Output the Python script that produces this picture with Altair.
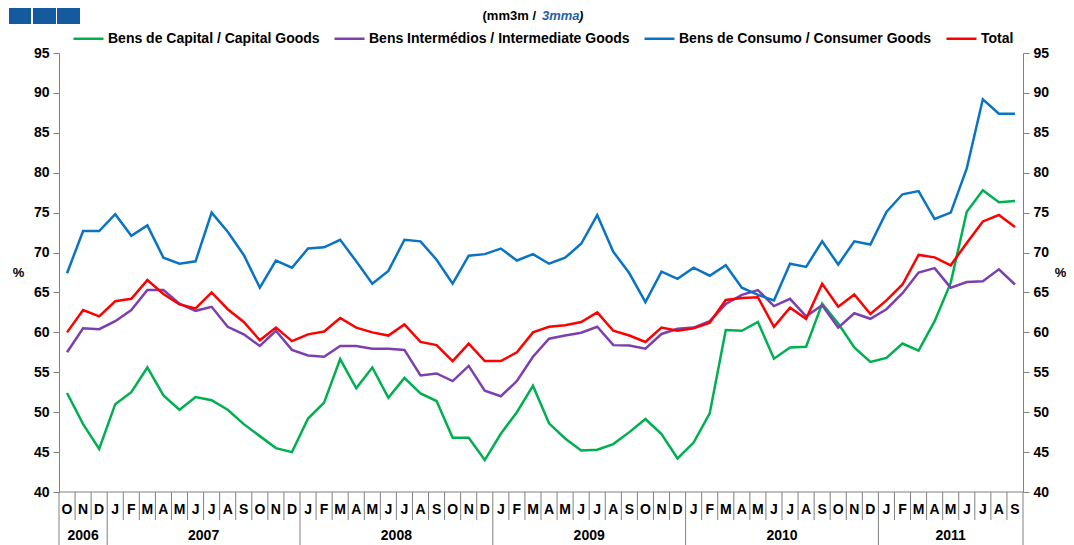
import altair as alt
import pandas as pd

# ---------------- data ----------------
months = ["O", "N", "D",
          "J", "F", "M", "A", "M", "J", "J", "A", "S", "O", "N", "D",
          "J", "F", "M", "A", "M", "J", "J", "A", "S", "O", "N", "D",
          "J", "F", "M", "A", "M", "J", "J", "A", "S", "O", "N", "D",
          "J", "F", "M", "A", "M", "J", "J", "A", "S", "O", "N", "D",
          "J", "F", "M", "A", "M", "J", "J", "A", "S"]
years = ["2006", "2007", "2008", "2009", "2010", "2011"]
year_first = [0, 3, 15, 27, 39, 51]
year_last = [2, 14, 26, 38, 50, 59]

capital = [52.4, 48.5, 45.4,
           51.0, 52.5, 55.6, 52.1, 50.3, 51.9, 51.5, 50.3, 48.5, 47.0, 45.5, 45.0,
           49.2, 51.2, 56.65, 53.0, 55.6, 51.8, 54.3, 52.35, 51.4, 46.8, 46.8, 44.0,
           47.3, 50.0, 53.3, 48.6, 46.7, 45.2, 45.3, 46.0, 47.5, 49.15, 47.25, 44.2,
           46.2, 49.85, 60.3, 60.2, 61.3, 56.7, 58.1, 58.2, 63.6, 61.1, 58.1, 56.3,
           56.8, 58.6, 57.7, 61.4, 66.2, 75.1, 77.8, 76.3, 76.45]
intermediate = [57.5, 60.5, 60.4,
                61.4, 62.8, 65.3, 65.3, 63.6, 62.7, 63.2, 60.7, 59.75, 58.3, 60.2, 57.8,
                57.1, 56.95, 58.3, 58.3, 57.95, 57.95, 57.8, 54.6, 54.85, 53.9, 55.8, 52.7,
                52.0, 53.9, 56.95, 59.2, 59.6, 59.95, 60.7, 58.4, 58.35, 57.95, 59.8, 60.45,
                60.6, 61.4, 63.55, 64.7, 65.3, 63.3, 64.2, 62.0, 63.4, 60.6, 62.4, 61.7,
                62.9, 64.9, 67.5, 68.05, 65.6, 66.3, 66.4, 67.9, 66.0]
consumer = [67.4, 72.7, 72.7,
            74.8, 72.1, 73.4, 69.35, 68.6, 68.9, 75.0, 72.6, 69.7, 65.6, 69.0, 68.1,
            70.5, 70.65, 71.6, 68.9, 66.1, 67.7, 71.6, 71.4, 69.1, 66.1, 69.6, 69.8,
            70.5, 69.0, 69.8, 68.6, 69.35, 71.1, 74.7, 70.1, 67.4, 63.8, 67.6, 66.7,
            68.1, 67.1, 68.4, 65.6, 64.7, 64.0, 68.6, 68.2, 71.4, 68.5, 71.4, 71.0,
            75.1, 77.3, 77.7, 74.2, 75.0, 80.55, 89.2, 87.4, 87.4]
total = [60.0, 62.8, 62.0,
         63.9, 64.2, 66.55, 64.8, 63.5, 63.0, 65.0, 62.9, 61.3, 59.0, 60.6, 58.9,
         59.75, 60.1, 61.8, 60.6, 60.0, 59.6, 61.0, 58.8, 58.4, 56.4, 58.6, 56.4,
         56.4, 57.5, 60.0, 60.7, 60.9, 61.3, 62.5, 60.2, 59.6, 58.8, 60.6, 60.2,
         60.5, 61.2, 64.05, 64.3, 64.4, 60.7, 63.1, 61.7, 66.1, 63.2, 64.75, 62.3,
         64.0, 66.0, 69.7, 69.4, 68.4, 71.2, 73.9, 74.7, 73.2]

series_names = ["Bens de Capital / Capital Goods",
                "Bens Intermédios / Intermediate Goods",
                "Bens de Consumo / Consumer Goods",
                "Total"]
series_colors = ["#00B050", "#7B3FB0", "#0A74C4", "#FF0000"]
y_ticks = [40, 45, 50, 55, 60, 65, 70, 75, 80, 85, 90, 95]

# ---------------- tables ----------------
rows = []
for name, vals in zip(series_names, [capital, intermediate, consumer, total]):
    for i, v in enumerate(vals):
        rows.append({"idx": i, "series": name, "value": v})
df = pd.DataFrame(rows)

df_months = pd.DataFrame({"idx": list(range(len(months))), "label": months})
df_years = pd.DataFrame({"year": years,
                         "center": [(a + b) / 2 for a, b in zip(year_first, year_last)]})
year_bounds = [a - 0.5 for a in year_first] + [year_last[-1] + 0.5]
all_bounds = [i - 0.5 for i in range(len(months) + 1)]
df_short = pd.DataFrame({"b": [b for b in all_bounds if b not in year_bounds]})
df_long = pd.DataFrame({"b": year_bounds})

W, H = 964, 439
FONT = "Liberation Sans"
GRAY = "#808080"

xscale = alt.Scale(domain=[-0.5, len(months) - 0.5], nice=False, zero=False)
yscale = alt.Scale(domain=[40, 95], nice=False, zero=False)


def yaxis(orient, title_x):
    return alt.Axis(orient=orient, values=y_ticks, grid=False,
                    domainColor=GRAY, tickColor=GRAY, tickSize=6, labelPadding=4,
                    labelFont=FONT, labelFontSize=14, labelFontWeight="bold",
                    labelColor="black", title="%", titleAngle=0, titleX=title_x,
                    titleY=219, titleAlign="center", titleBaseline="middle",
                    titleFont=FONT, titleFontSize=13, titleFontWeight="bold",
                    titleColor="black")


lines = alt.Chart(df).mark_line(strokeWidth=2.5).encode(
    x=alt.X("idx:Q", scale=xscale, axis=None),
    y=alt.Y("value:Q", scale=yscale, axis=yaxis("left", -41)),
    color=alt.Color("series:N", sort=series_names,
                    scale=alt.Scale(domain=series_names, range=series_colors),
                    legend=alt.Legend(orient="none", legendX=13, legendY=-31,
                                      direction="horizontal", title=None,
                                      symbolType="stroke", symbolSize=900,
                                      symbolStrokeWidth=2.5, labelFont=FONT,
                                      labelFontSize=14, labelFontWeight="bold",
                                      labelColor="black", labelLimit=500,
                                      columnPadding=9, labelOffset=3)),
)

right_axis = alt.Chart(df).mark_line(opacity=0).encode(
    x=alt.X("idx:Q", scale=xscale, axis=None),
    y=alt.Y("value:Q", scale=yscale, axis=yaxis("right", 37)),
    detail="series:N",
)

base_line = alt.Chart(pd.DataFrame({"v": [0]})).mark_rule(color=GRAY, strokeWidth=1).encode(
    x=alt.value(0), x2=alt.value(W), y=alt.value(H))

short_rules = alt.Chart(df_short).mark_rule(color=GRAY, strokeWidth=1).encode(
    x=alt.X("b:Q", scale=xscale, axis=None), y=alt.value(H), y2=alt.value(H + 28))

long_rules = alt.Chart(df_long).mark_rule(color=GRAY, strokeWidth=1).encode(
    x=alt.X("b:Q", scale=xscale, axis=None), y=alt.value(H), y2=alt.value(H + 60))

month_text = alt.Chart(df_months).mark_text(
    font=FONT, fontSize=14, fontWeight="bold", color="black", baseline="middle").encode(
    x=alt.X("idx:Q", scale=xscale, axis=None), y=alt.value(H + 18), text="label:N")

year_text = alt.Chart(df_years).mark_text(
    font=FONT, fontSize=14, fontWeight="bold", color="black", baseline="middle").encode(
    x=alt.X("center:Q", scale=xscale, axis=None), y=alt.value(H + 44), text="year:N")

title_a = alt.Chart(pd.DataFrame({"t": ["(mm3m  /"]})).mark_text(
    font=FONT, fontSize=13, fontWeight="bold", color="black", align="right",
    baseline="middle").encode(x=alt.value(477), y=alt.value(-37), text="t:N")
title_b = alt.Chart(pd.DataFrame({"t": ["3mma"]})).mark_text(
    font=FONT, fontSize=13, fontWeight="bold", fontStyle="italic", color="#1F5FA8",
    align="left", baseline="middle").encode(x=alt.value(483), y=alt.value(-37), text="t:N")
title_c = alt.Chart(pd.DataFrame({"t": [")"]})).mark_text(
    font=FONT, fontSize=13, fontWeight="bold", fontStyle="italic", color="black",
    align="left", baseline="middle").encode(x=alt.value(520), y=alt.value(-37), text="t:N")

squares = alt.Chart(pd.DataFrame({"x": [-50, -26, -2], "x2": [-28, -3, 21]})).mark_rect(
    color="#15599F").encode(
    x=alt.X("x:Q", scale=None), x2="x2:Q", y=alt.value(-45), y2=alt.value(-29))

chart = alt.layer(
    base_line, short_rules, long_rules, month_text, year_text,
    right_axis, lines, title_a, title_b, title_c, squares,
).resolve_scale(y="independent").properties(
    width=W, height=H,
    autosize=alt.AutoSizeParams(type="none"),
    padding={"left": 51, "top": 45, "right": 43, "bottom": 53},
    background="white",
).configure_view(stroke=None)

chart.save("out.html", embed_options={"renderer": "svg", "actions": False})
